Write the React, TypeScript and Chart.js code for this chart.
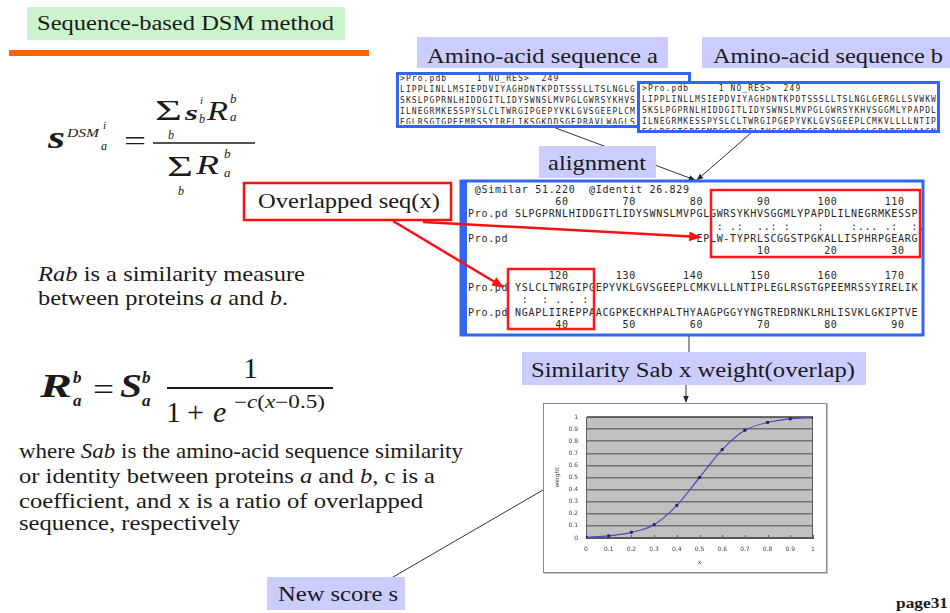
import React, { useEffect, useRef } from "react";
import { Chart, registerables } from "chart.js";

Chart.register(...registerables);

// ---- chart data ----
const xValues = [0, 0.1, 0.2, 0.3, 0.4, 0.5, 0.6, 0.7, 0.8, 0.9, 1];
const weightValues = [0.007, 0.018, 0.047, 0.11, 0.27, 0.5, 0.73, 0.89, 0.955, 0.985, 0.995];
const xTickValues = [0, 0.1, 0.2, 0.3, 0.4, 0.5, 0.6, 0.7, 0.8, 0.9, 1];
const xTickLabels = ["0", "0.1", "0.2", "0.3", "0.4", "0.5", "0.6", "0.7", "0.8", "0.9", "1"];
const yTickValues = [0, 0.1, 0.2, 0.3, 0.4, 0.5, 0.6, 0.7, 0.8, 0.9, 1];
const yTickLabels = ["0", "0.1", "0.2", "0.3", "0.4", "0.5", "0.6", "0.7", "0.8", "0.9", "1"];
const xAxisTitle = "x";
const yAxisTitle = "weight";

// ---- slide text ----
const seqLinesA = [
  ">Pro.pdb     1 NO_RES>  249",
  "LIPPLINLLMSIEPDVIYAGHDNTKPDTSSSLLTSLNGLG",
  "SKSLPGPRNLHIDDGITLIDYSWNSLMVPGLGWRSYKHVS",
  "ILNEGRMKESSPYSLCLTWRGIPGEPYVKLGVSGEEPLCM",
  "EGLRSGTGPEEMRSSYIRELIKSGKDDSGEPRAVLWAGLS",
];
const seqLinesB = [
  ">Pro.pdb     1 NO_RES>  249",
  "LIPPLINLLMSIEPDVIYAGHDNTKPDTSSSLLTSLNGLGERGLLSVWKW",
  "SKSLPGPRNLHIDDGITLIDYSWNSLMVPGLGWRSYKHVSGGMLYPAPDL",
  "ILNEGRMKESSPYSLCLTWRGIPGEPYVKLGVSGEEPLCMKVLLLLNTIPL",
  "EGLRSGTGPEEMRSSYIRELIKSGKDDSGEPRAVLWAGLSPAPEVKAAGN",
];
const alignLines = [
  " @Similar 51.220  @Identit 26.829",
  "             60        70        80        90       100       110",
  "Pro.pd SLPGPRNLHIDDGITLIDYSWNSLMVPGLGWRSYKHVSGGMLYPAPDLILNEGRMKESSP",
  "                                     : .:  ..: :    :    :... .:  :.",
  "Pro.pd                            EPLW-TYPRLSCGGSTPGKALLISPHRPGEARG",
  "                                           10        20        30",
  "",
  "            120       130       140       150       160       170",
  "Pro.pd YSLCLTWRGIPGEPYVKLGVSGEEPLCMKVLLLNTIPLEGLRSGTGPEEMRSSYIRELIK",
  "        :  : . . :",
  "Pro.pd NGAPLIIREPPAACGPKECKHPALTHYAAGPGGYYNGTREDRNKLRHLISVKLGKIPTVE",
  "             40        50        60        70        80        90",
];

const serif = "'Liberation Serif','Times New Roman',Times,serif";
const mono = "'DejaVu Sans Mono','Liberation Mono',monospace";
const ink = "#1a1a1a";
const lav = "#ccccff";
const blue = "#3264f5";

function T(props: any) {
  const { x, y, size, len, children, fs, fw, fill, family, anchor } = props;
  return (
    <text
      x={x}
      y={y}
      fontSize={size}
      fontFamily={family || serif}
      fontStyle={fs}
      fontWeight={fw}
      fill={fill || ink}
      textAnchor={anchor}
      textLength={len}
      lengthAdjust={len ? "spacingAndGlyphs" : undefined}
    >
      {children}
    </text>
  );
}

function Mono(props: any) {
  const { lines, x0, y0, lh, cw, size, prefix } = props;
  const out: any[] = [];
  lines.forEach((line: string, r: number) => {
    const re = /\S+/g;
    let m: RegExpExecArray | null;
    while ((m = re.exec(line))) {
      const n = m[0].length;
      out.push(
        <text
          key={prefix + r + "-" + m.index}
          x={x0 + m.index * cw}
          y={y0 + r * lh}
          fontSize={size}
          fontFamily={mono}
          fill="#262626"
          textLength={n > 1 ? n * cw - (cw - size * 0.602) : undefined}
          lengthAdjust="spacing"
        >
          {m[0]}
        </text>
      );
    }
  });
  return <g>{out}</g>;
}

const plotDecor = {
  id: "plotDecor",
  beforeDraw(chart: any) {
    const { ctx, chartArea: a } = chart;
    ctx.save();
    ctx.fillStyle = "#c0c0c0";
    ctx.fillRect(a.left, a.top, a.right - a.left, a.bottom - a.top);
    ctx.restore();
  },
  beforeDatasetsDraw(chart: any) {
    const { ctx, chartArea: a, scales } = chart;
    ctx.save();
    ctx.strokeStyle = "#5a5a5a";
    ctx.lineWidth = 1;
    ctx.strokeRect(a.left + 0.5, a.top + 0.5, a.right - a.left - 1, a.bottom - a.top - 1);
    ctx.beginPath();
    xTickValues.forEach((v) => {
      const px = Math.round(scales.x.getPixelForValue(v)) + 0.5;
      ctx.moveTo(px, a.bottom);
      ctx.lineTo(px, a.bottom - 3);
    });
    ctx.stroke();
    ctx.restore();
  },
};

export default function App() {
  const ref = useRef<HTMLCanvasElement>(null);

  useEffect(() => {
    const tickFont = { family: "'DejaVu Sans',sans-serif", size: 6 };
    const chart = new Chart(ref.current as HTMLCanvasElement, {
      type: "line",
      data: {
        datasets: [
          {
            data: xValues.map((x, i) => ({ x, y: weightValues[i] })),
            borderColor: "#4a4ab8",
            borderWidth: 1.2,
            pointRadius: 2,
            pointStyle: "rect",
            pointBackgroundColor: "#1c1c7c",
            pointBorderColor: "#1c1c7c",
            pointBorderWidth: 0,
            cubicInterpolationMode: "monotone",
            fill: false,
          } as any,
        ],
      },
      options: {
        animation: false,
        responsive: false,
        maintainAspectRatio: false,
        layout: { padding: { top: 13, right: 13, left: 0, bottom: 0 } },
        plugins: { legend: { display: false }, tooltip: { enabled: false } },
        scales: {
          x: {
            type: "linear",
            min: 0,
            max: 1,
            afterBuildTicks: (s: any) => {
              s.ticks = xTickValues.map((v) => ({ value: v }));
            },
            afterFit: (s: any) => {
              s.height = 34;
            },
            ticks: {
              callback: (_v: any, i: number) => xTickLabels[i],
              font: tickFont,
              color: "#444",
              padding: 8,
              maxRotation: 0,
              autoSkip: false,
            },
            grid: { display: false, drawTicks: false },
            border: { display: true, color: "#555" },
            title: {
              display: true,
              text: xAxisTitle,
              font: tickFont,
              color: "#444",
              padding: { top: 0, bottom: 6 },
            },
          },
          y: {
            type: "linear",
            min: 0,
            max: 1,
            afterBuildTicks: (s: any) => {
              s.ticks = yTickValues.map((v) => ({ value: v }));
            },
            afterFit: (s: any) => {
              s.width = 42;
            },
            ticks: {
              callback: (_v: any, i: number) => yTickLabels[i],
              font: tickFont,
              color: "#444",
              padding: 8,
              autoSkip: false,
            },
            grid: { color: "#707070", lineWidth: 1.6, drawTicks: false },
            border: { display: true, color: "#555" },
            title: {
              display: true,
              text: yAxisTitle,
              font: tickFont,
              color: "#444",
              padding: { top: 10, bottom: 0 },
            },
          },
        },
      } as any,
      plugins: [plotDecor],
    });
    return () => chart.destroy();
  }, []);

  return (
    <div
      style={{
        position: "fixed",
        left: 0,
        top: 0,
        width: 950,
        height: 613,
        background: "#fff",
        overflow: "hidden",
      }}
    >
      <svg width={950} height={613} style={{ position: "absolute", left: 0, top: 0 }}>
        <defs>
          <marker id="ahk" viewBox="0 0 10 10" refX="9" refY="5" markerWidth="7" markerHeight="7" markerUnits="userSpaceOnUse" orient="auto">
            <path d="M0,1 L10,5 L0,9 z" fill="#222" />
          </marker>
          <marker id="ahr" viewBox="0 0 10 10" refX="9" refY="5" markerWidth="12" markerHeight="12" markerUnits="userSpaceOnUse" orient="auto">
            <path d="M0,1 L10,5 L0,9 z" fill="#ff1010" />
          </marker>
          <clipPath id="clipA">
            <rect x={399} y={75} width={289} height={49} />
          </clipPath>
          <clipPath id="clipB">
            <rect x={640} y={84} width={297} height={46} />
          </clipPath>
        </defs>

        {/* title */}
        <rect x={27} y={7} width={318} height={33} fill="#ccf4cc" />
        <T x={37} y={30} size={20} len={297}>Sequence-based DSM method</T>
        <rect x={9} y={50} width={360} height={6} fill="#ff6400" />

        {/* formula s^DSM */}
        <T x={48} y={148} size={32} fs="italic" fw="bold" len={17}>s</T>
        <T x={67} y={137} size={12} fs="italic" len={32}>DSM</T>
        <T x={103} y={129} size={11} fs="italic">i</T>
        <T x={101} y={150} size={12} fs="italic">a</T>
        <T x={124} y={150} size={28} len={22}>=</T>
        <line x1={153} y1={143} x2={255} y2={143} stroke={ink} strokeWidth={1.4} />
        <T x={155} y={120} size={30} len={27}>Σ</T>
        <T x={168} y={139} size={12} fs="italic">b</T>
        <T x={185} y={120} size={22} fs="italic" fw="bold" len={13}>s</T>
        <T x={200} y={104} size={11} fs="italic">i</T>
        <T x={199} y={123} size={12} fs="italic">b</T>
        <T x={207} y={120} size={27} fs="italic" len={21}>R</T>
        <T x={230} y={103} size={13} fs="italic">b</T>
        <T x={230} y={121} size={13} fs="italic">a</T>
        <T x={167} y={176} size={30} len={26}>Σ</T>
        <T x={178} y={195} size={12} fs="italic">b</T>
        <T x={196} y={174} size={27} fs="italic" len={23}>R</T>
        <T x={224} y={158} size={13} fs="italic">b</T>
        <T x={224} y={177} size={13} fs="italic">a</T>

        {/* Rab text */}
        <text x={38} y={281} fontSize={21} fontFamily={serif} fill={ink} textLength={267} lengthAdjust="spacingAndGlyphs">
          <tspan fontStyle="italic">Rab</tspan> is a similarity measure
        </text>
        <text x={38} y={305} fontSize={21} fontFamily={serif} fill={ink} textLength={250} lengthAdjust="spacingAndGlyphs">
          between proteins <tspan fontStyle="italic">a</tspan> and <tspan fontStyle="italic">b</tspan>.
        </text>

        {/* R formula */}
        <T x={40} y={397} size={34} fs="italic" fw="bold" len={32}>R</T>
        <T x={73} y={383} size={17} fs="italic" fw="bold">b</T>
        <T x={73} y={406} size={17} fs="italic" fw="bold">a</T>
        <T x={93} y={400} size={32} len={21}>=</T>
        <T x={120} y={397} size={34} fs="italic" fw="bold" len={22}>S</T>
        <T x={142} y={383} size={17} fs="italic" fw="bold">b</T>
        <T x={142} y={406} size={17} fs="italic" fw="bold">a</T>
        <line x1={167} y1={388} x2={333} y2={388} stroke={ink} strokeWidth={2} />
        <T x={243} y={378} size={30}>1</T>
        <T x={166} y={422} size={30}>1</T>
        <T x={187} y={422} size={30}>+</T>
        <T x={213} y={422} size={30} fs="italic">e</T>
        <text x={234} y={408} fontSize={18} fontFamily={serif} fill={ink} textLength={91} lengthAdjust="spacingAndGlyphs">
          −<tspan fontStyle="italic">c</tspan>(<tspan fontStyle="italic">x</tspan>−0.5)
        </text>

        {/* where paragraph */}
        <text x={19} y={458} fontSize={21} fontFamily={serif} fill={ink} textLength={444} lengthAdjust="spacingAndGlyphs">
          where <tspan fontStyle="italic">Sab</tspan> is the amino-acid sequence similarity
        </text>
        <text x={19} y={483} fontSize={21} fontFamily={serif} fill={ink} textLength={416} lengthAdjust="spacingAndGlyphs">
          or identity between proteins <tspan fontStyle="italic">a</tspan> and <tspan fontStyle="italic">b</tspan>, c is a
        </text>
        <text x={19} y={508} fontSize={21} fontFamily={serif} fill={ink} textLength={404} lengthAdjust="spacingAndGlyphs">
          coefficient, and x is a ratio of overlapped
        </text>
        <text x={19} y={530} fontSize={21} fontFamily={serif} fill={ink} textLength={221} lengthAdjust="spacingAndGlyphs">
          sequence, respectively
        </text>

        {/* amino acid labels */}
        <rect x={417} y={37} width={251} height={31} fill={lav} />
        <T x={427} y={63} size={21} len={231}>Amino-acid sequence a</T>
        <rect x={702} y={37} width={248} height={31} fill={lav} />
        <T x={713} y={63} size={21} len={230}>Amino-acid sequence b</T>

        {/* connector lines to alignment */}
        <line x1={553} y1={127} x2={695} y2={180} stroke="#333" strokeWidth={1} markerEnd="url(#ahk)" />
        <line x1={752} y1={132} x2={697} y2={180} stroke="#333" strokeWidth={1} markerEnd="url(#ahk)" />

        {/* sequence boxes */}
        <rect x={397.5} y={73.5} width={292} height={53} fill="#fff" stroke={blue} strokeWidth={3} />
        <g clipPath="url(#clipA)">
          <Mono lines={seqLinesA} x0={400} y0={81} lh={11} cw={5.9} size={8} prefix="a" />
        </g>
        <rect x={638.5} y={82.5} width={300} height={49} fill="#fff" stroke={blue} strokeWidth={3} />
        <g clipPath="url(#clipB)">
          <Mono lines={seqLinesB} x0={642} y0={91} lh={11} cw={5.9} size={8} prefix="b" />
        </g>

        {/* alignment label */}
        <rect x={539} y={146} width={117} height={32} fill={lav} />
        <T x={548} y={170} size={21} len={98}>alignment</T>

        {/* alignment box */}
        <rect x={461} y={181} width={462} height={154} fill="#fff" stroke={blue} strokeWidth={3} />
        <rect x={460} y={180} width={7} height={156} fill={blue} />
        <Mono lines={alignLines} x0={468} y0={192.7} lh={12.3} cw={6.72} size={10} prefix="al" />
        <rect x={711} y={190} width={209} height={67} fill="none" stroke="#ff1a1a" strokeWidth={2.5} />
        <rect x={508} y={269} width={86} height={60} fill="none" stroke="#ff1a1a" strokeWidth={2.5} />

        {/* overlapped label + red arrows */}
        <line x1={423} y1={222} x2={700} y2={237} stroke="#ff1010" strokeWidth={2.5} markerEnd="url(#ahr)" />
        <line x1={393} y1={221} x2={503} y2={287} stroke="#ff1010" strokeWidth={2.5} markerEnd="url(#ahr)" />
        <rect x={244} y={183} width={207} height={37} fill="#fff" stroke="#ff1010" strokeWidth={2.5} />
        <T x={258} y={208} size={21} len={182}>Overlapped seq(x)</T>

        {/* similarity */}
        <line x1={689} y1={336} x2={689} y2={352} stroke="#333" strokeWidth={1} />
        <rect x={522} y={352} width={344} height={33} fill={lav} />
        <T x={531} y={377} size={20} len={324}>Similarity Sab x weight(overlap)</T>
        <line x1={686} y1={385} x2={686} y2={402} stroke="#333" strokeWidth={1} markerEnd="url(#ahk)" />

        {/* new score */}
        <line x1={543} y1={490} x2={369} y2={591} stroke="#333" strokeWidth={1} markerEnd="url(#ahk)" />
        <rect x={267} y={577} width={138} height={33} fill={lav} />
        <T x={278} y={601} size={20} len={120}>New score s</T>

        <T x={896} y={608} size={14} fw="bold" len={52}>page31</T>
      </svg>

      <div
        style={{
          position: "absolute",
          left: 543,
          top: 403,
          width: 284,
          height: 170,
          boxSizing: "border-box",
          border: "1px solid #8a8a8a",
          boxShadow: "1px 1px 0 #c4c4c4",
          background: "#fff",
        }}
      >
        <canvas ref={ref} width={282} height={168} style={{ display: "block", width: 282, height: 168 }} />
      </div>
    </div>
  );
}
